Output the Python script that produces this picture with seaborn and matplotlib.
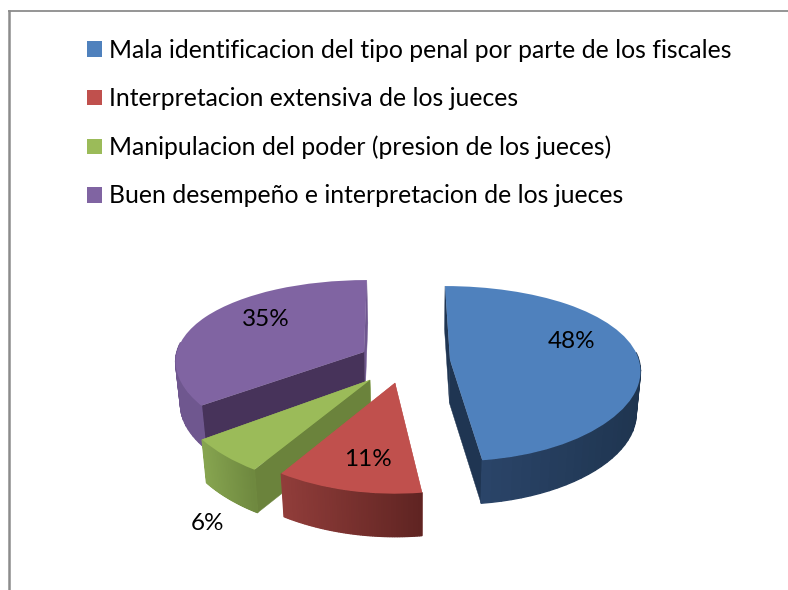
import numpy as np
import matplotlib
matplotlib.use("Agg")
import matplotlib.pyplot as plt
from matplotlib.transforms import Transform
from matplotlib.patches import Polygon
import seaborn as sns

# ---- data ----
labels = ["Mala identificacion del tipo penal por parte de los fiscales",
          "Interpretacion extensiva de los jueces",
          "Manipulacion del poder (presion de los jueces)",
          "Buen desempeño e interpretacion de los jueces"]
values = [48, 11, 6, 35]
colors = ["#4F81BD", "#C0504D", "#9BBB59", "#8064A2"]

# ---- styling / layout ----
side_left = ["#2A4468", "#913D3A", "#87A550", "#6F578F"]
side_right = ["#1F3550", "#5F2422", "#6E883F", "#6F578F"]
cut_first = ["#1F3552", "#C0504D", "#6B833C", "#47335A"]
cut_last = ["#1F3552", "#C0504D", "#9BBB59", "#6F578F"]
apex = [(450, 360), (395, 383), (370, 380), (364, 352)]
label_pos = [(572, 341), (368, 459), (208, 523), (266, 320)]
draw_order = [3, 2, 1, 0]

CX, CY = 395.0, 365.0
RX, RY, K, KX = 190.0, 87.0, 0.157, 0.10
DEPTH, SHRINK, SHRINK_X = 43.0, 0.98, 420.0


def project(x, y, z=0.0):
    px = CX + RX * x / (1.0 + KX * y)
    py = CY - RY * y / (1.0 + K * y)
    return SHRINK_X + (px - SHRINK_X) * (1 - (1 - SHRINK) * z), py + DEPTH * z


def world_offset(px, py):
    w = (CY - py) / RY
    y = w / (1 - K * w)
    return (px - CX) * (1 + KX * y) / RX, y


class Perspective(Transform):
    input_dims = output_dims = 2
    has_inverse = False
    is_separable = False

    def __init__(self, off):
        super().__init__()
        self.off = off

    def transform_non_affine(self, v):
        v = np.asarray(v, dtype=float)
        px, py = project(v[:, 0] + self.off[0], v[:, 1] + self.off[1])
        return np.column_stack([px, py])


sns.set_theme(style="white")
plt.rcParams["font.family"] = ["Lato", "DejaVu Sans"]
fig = plt.figure(figsize=(7.88, 5.90), dpi=100)
ax = fig.add_axes([0, 0, 1, 1])
wedges, _ = ax.pie(values, colors=sns.color_palette(colors), startangle=90,
                   counterclock=False, wedgeprops={"linewidth": 0})
ax.set_aspect("auto")
ax.set_xlim(0, 788)
ax.set_ylim(590, 0)
ax.axis("off")

z = 2
for i in draw_order:
    w = wedges[i]
    off = world_offset(*apex[i])
    t0, t1 = np.radians(w.theta1), np.radians(w.theta2)   # t1 is the clockwise start

    def pt(t, r, zz):
        return project(r * np.cos(t) + off[0], r * np.sin(t) + off[1], zz)

    # flat faces left by the cuts
    for t, col in ((t0, cut_last[i]), (t1, cut_first[i])):
        quad = [pt(t, 0, 0), pt(t, 1, 0), pt(t, 1, 1), pt(t, 0, 1)]
        ax.add_patch(Polygon(quad, closed=True, fc=col, ec=col, lw=0.3, zorder=z))
        z += 1
    # rounded outer side, shaded from left to right
    ts = np.linspace(t0, t1, 60)
    ts = ts[np.sin(ts) < 0.12]
    if len(ts) > 1:
        xs = np.array([pt(t, 1, 0)[0] for t in ts])
        c0 = np.array(matplotlib.colors.to_rgb(side_left[i]))
        c1 = np.array(matplotlib.colors.to_rgb(side_right[i]))
        for a, b, x in zip(ts[:-1], ts[1:], xs[:-1]):
            f = (x - xs.min()) / max(xs.max() - xs.min(), 1)
            col = c0 + (c1 - c0) * f
            quad = [pt(a, 1, 0), pt(b, 1, 0), pt(b, 1, 1), pt(a, 1, 1)]
            ax.add_patch(Polygon(quad, closed=True, fc=col, ec=col, lw=1.0,
                                 joinstyle="bevel", zorder=z))
            z += 1
    w.set_transform(Perspective(off) + ax.transData)
    w.set_zorder(z)
    z += 1

for v, (x, y) in zip(values, label_pos):
    ax.text(x, y, f"{v}%", ha="center", va="center", fontsize=17.5, color="black", zorder=z)

ax.legend(wedges, labels, loc="upper left", bbox_to_anchor=(87, 39),
          bbox_transform=ax.transData, frameon=False, fontsize=17.85, borderpad=0,
          borderaxespad=0, handlelength=0.6, handleheight=0.6, handletextpad=0.28,
          labelspacing=1.02, labelcolor="black")

ax.plot([9, 9], [10, 590], color="#8C8C8C", lw=1.8, zorder=z, solid_capstyle="butt")
ax.plot([8, 788], [11, 11], color="#8C8C8C", lw=1.3, zorder=z, solid_capstyle="butt")

fig.savefig("out.png", dpi=100)
